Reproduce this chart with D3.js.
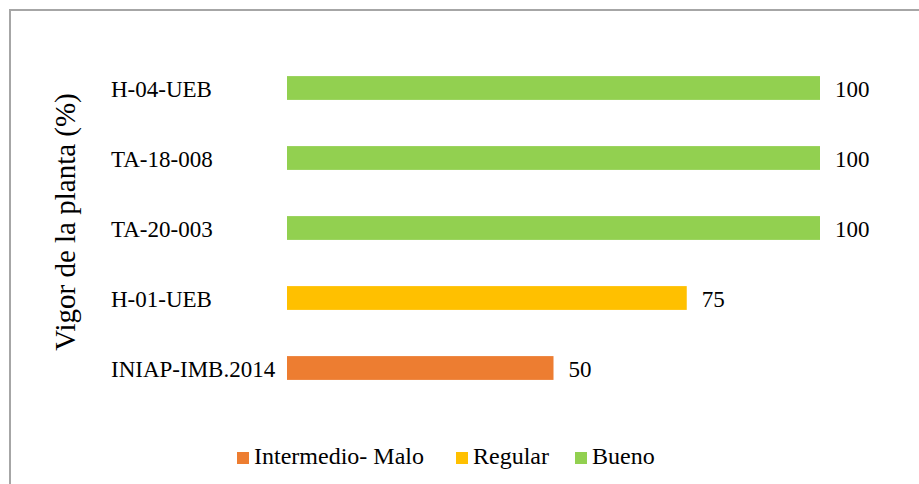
<!DOCTYPE html>
<html>
<head>
<meta charset="utf-8">
<script src="https://cdn.jsdelivr.net/npm/d3@7"></script>
</head>
<body style="margin:0">
<script>
// data
const categories = ['H-04-UEB', 'TA-18-008', 'TA-20-003', 'H-01-UEB', 'INIAP-IMB.2014'];
const values = [100, 100, 100, 75, 50];
const vigorClass = ['Bueno', 'Bueno', 'Bueno', 'Regular', 'Intermedio- Malo'];
const legendLabels = ['Intermedio- Malo', 'Regular', 'Bueno'];
const legendColors = ['#ED7D31', '#FFC000', '#92D050'];

const W = 919, H = 484;
const FONT = 'Liberation Serif';

var svg = d3.select('body').append('svg')
  .attr('width', W)
  .attr('height', H)
  .attr('font-family', FONT);

// chart frame (right/bottom edges fall outside the picture)
svg.append('rect')
  .attr('x', 10).attr('y', 10)
  .attr('width', 1000).attr('height', 1000)
  .attr('fill', 'none')
  .attr('stroke', '#a6a6a6')
  .attr('stroke-width', 2);

var x = d3.scaleLinear()
  .domain([0, 100])
  .range([287, 820]);

var y = d3.scaleBand()
  .domain(categories)
  .range([53, 403])
  .paddingInner(0.66)
  .paddingOuter(0.33);

var color = d3.scaleOrdinal()
  .domain(legendLabels)
  .range(legendColors);

var rows = categories.map((c, i) => ({ cat: c, val: values[i], cls: vigorClass[i] }));

// bars
svg.append('g').selectAll('rect')
  .data(rows)
  .enter().append('rect')
  .attr('x', x(0))
  .attr('y', d => y(d.cat))
  .attr('width', d => x(d.val) - x(0))
  .attr('height', y.bandwidth())
  .attr('fill', d => color(d.cls));

// value labels
svg.append('g').selectAll('text')
  .data(rows)
  .enter().append('text')
  .attr('x', d => x(d.val) + 15)
  .attr('y', d => y(d.cat) + y.bandwidth() / 2 + 8.5)
  .attr('font-family', FONT)
  .attr('font-size', 23)
  .text(d => d.val);

// category axis
var yAxis = svg.append('g')
  .attr('transform', 'translate(' + x(0) + ',0)')
  .call(d3.axisLeft(y).tickSize(0))
  .attr('font-family', FONT)
  .attr('font-size', 23);
yAxis.select('.domain').remove();
yAxis.selectAll('.tick text')
  .attr('x', 111 - x(0))
  .attr('dy', '0.38em')
  .attr('text-anchor', 'start')
  .attr('fill', '#000')
  .attr('font-family', FONT)
  .attr('font-size', 23);

// axis title
svg.append('text')
  .attr('transform', 'translate(75,222) rotate(-90)')
  .attr('text-anchor', 'middle')
  .attr('font-family', FONT)
  .attr('font-size', 29)
  .text('Vigor de la planta (%)');

// legend
var legendX = [237, 456, 575];
var legend = svg.append('g').selectAll('g')
  .data(legendLabels)
  .enter().append('g')
  .attr('transform', (d, i) => 'translate(' + legendX[i] + ',452)');
legend.append('rect')
  .attr('width', 12).attr('height', 12)
  .attr('fill', d => color(d));
legend.append('text')
  .attr('x', 17)
  .attr('y', 12)
  .attr('font-family', FONT)
  .attr('font-size', 24)
  .text(d => d);
</script>
</body>
</html>
